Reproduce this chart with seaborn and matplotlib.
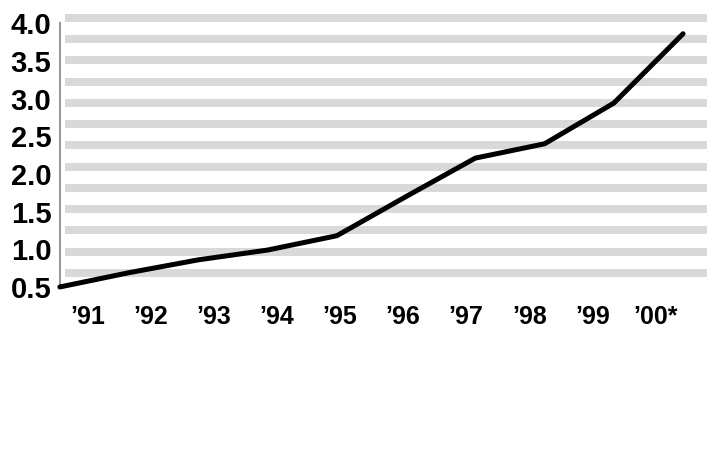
import numpy as np
import pandas as pd
import matplotlib.pyplot as plt
import seaborn as sns

# values
years = ['\u201991', '\u201992', '\u201993', '\u201994', '\u201995',
         '\u201996', '\u201997', '\u201998', '\u201999', '\u201900*']
values = [0.50, 0.69, 0.86, 0.99, 1.18, 1.70, 2.21, 2.40, 2.94, 3.86]
ytick_values = [0.5, 1.0, 1.5, 2.0, 2.5, 3.0, 3.5, 4.0]

df = pd.DataFrame({'idx': np.arange(len(values)), 'value': values})

sns.set_style('white')
plt.rcParams['font.family'] = ['Liberation Sans', 'DejaVu Sans']

fig = plt.figure(figsize=(7.21, 4.72), dpi=100)
ax = fig.add_axes([0.083, 0.392, 0.898, 0.578])

ax.set_xlim(0, 9.35)
ax.set_ylim(0.5, 4.12)

# decorative grey stripes behind the line
for yc in np.linspace(0.686, 4.07, 13):
    ax.axhspan(yc - 0.053, yc + 0.053, xmin=0.008, xmax=1.0,
               color='#d9d9d9', lw=0, zorder=0)

sns.lineplot(data=df, x='idx', y='value', ax=ax, color='black',
             lw=3.6, zorder=3, solid_joinstyle='round', solid_capstyle='round',
             clip_on=False)

for s in ['top', 'right', 'bottom']:
    ax.spines[s].set_visible(False)
ax.spines['left'].set_color('#9a9a9a')
ax.spines['left'].set_linewidth(1.5)
ax.spines['left'].set_bounds(0.5, 4.0)

ax.set_yticks(ytick_values)
ax.set_yticklabels([f'{v:.1f}' for v in ytick_values],
                   fontsize=21, fontweight='bold', color='black')
ax.set_xticks(np.linspace(0.40, 8.60, len(years)))
ax.set_xticklabels(years, fontsize=18, fontweight='bold', color='black')
ax.tick_params(axis='y', length=0, pad=6)
ax.tick_params(axis='x', length=0, pad=13)
ax.set_xlabel('')
ax.set_ylabel('')

fig.savefig('out.png', dpi=100)
plt.close(fig)
